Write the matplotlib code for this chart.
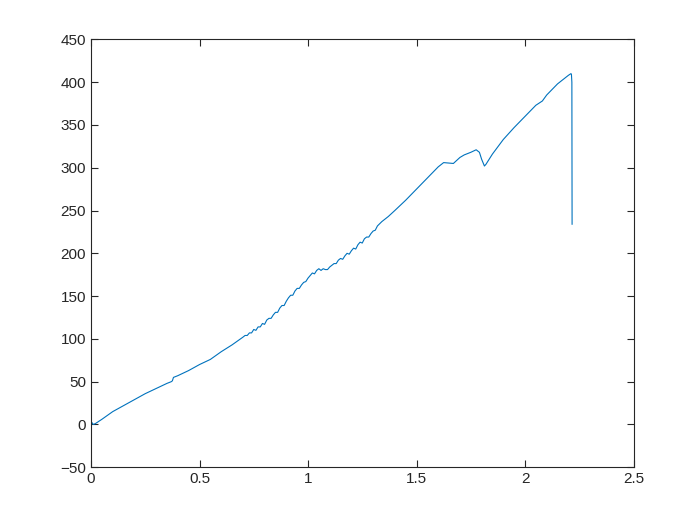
import matplotlib
matplotlib.use('Agg')
from matplotlib import pyplot as plt

# displacement / load readings
x_start = [0.0, 0.005, 0.01, 0.02, 0.05, 0.10, 0.15, 0.20, 0.25, 0.30, 0.35, 0.37, 0.375,
           0.38, 0.40, 0.45, 0.50, 0.55, 0.60, 0.65]
y_start = [3, 2, 0, 1, 6, 15, 22, 29, 36, 42, 48, 50, 51,
           55, 57, 63, 70, 76, 85, 93]

# noisy middle part
x_mid = [0.70, 0.71, 0.72, 0.73, 0.74, 0.75, 0.76, 0.77, 0.78, 0.79, 0.80, 0.81, 0.82,
         0.83, 0.84, 0.85, 0.86, 0.87, 0.88, 0.89, 0.90, 0.91, 0.92, 0.93, 0.94, 0.95,
         0.96, 0.97, 0.98, 0.99, 1.00, 1.01, 1.02, 1.03, 1.04, 1.05, 1.06, 1.07, 1.08,
         1.09, 1.10, 1.11, 1.12, 1.13, 1.14, 1.15, 1.16, 1.17, 1.18, 1.19, 1.20, 1.21,
         1.22, 1.23, 1.24, 1.25, 1.26, 1.27, 1.28, 1.29, 1.30, 1.31, 1.32]
y_mid = [102, 104, 104, 107, 107, 111, 110, 114, 114, 118, 117, 122, 124,
         124, 128, 131, 131, 136, 139, 139, 144, 148, 151, 151, 156, 159,
         159, 163, 166, 167, 171, 174, 177, 176, 180, 182, 180, 182, 181,
         181, 184, 186, 188, 188, 192, 194, 193, 197, 200, 199, 203, 206,
         205, 210, 213, 212, 217, 219, 219, 223, 226, 227, 232]

x_end = [1.34, 1.37, 1.40, 1.45, 1.50, 1.55, 1.60, 1.625, 1.67, 1.70, 1.72, 1.75, 1.775, 1.79,
         1.80, 1.813, 1.82, 1.85, 1.90, 1.95, 2.00, 2.05, 2.08, 2.10, 2.15, 2.20,
         2.212, 2.214, 2.216, 2.217]
y_end = [237, 243, 250, 262, 275, 288, 301, 306, 305, 312, 315, 318, 321, 318,
         310, 302, 304, 316, 333, 347, 360, 373, 378, 385, 398, 408,
         410, 409, 400, 234]

xs = x_start + x_mid + x_end
ys = y_start + y_mid + y_end

plt.rcParams['font.family'] = ['Liberation Sans', 'DejaVu Sans']

fig = plt.figure(figsize=(7, 5.25), dpi=100)
ax = fig.add_axes([0.13, 0.11, 0.775, 0.815])
ax.plot(xs, ys, color='#0072BD', linewidth=0.8)

ax.set_xlim(0, 2.5)
ax.set_ylim(-50, 450)
ax.set_xticks([0, 0.5, 1, 1.5, 2, 2.5])
ax.set_xticklabels(['0', '0.5', '1', '1.5', '2', '2.5'])
ax.set_yticks(range(-50, 451, 50))
ax.tick_params(direction='in', top=True, right=True, labelsize=11, colors='#262626', length=5)
for s in ax.spines.values():
    s.set_color('#262626')
    s.set_linewidth(0.8)

fig.savefig('out.png')
